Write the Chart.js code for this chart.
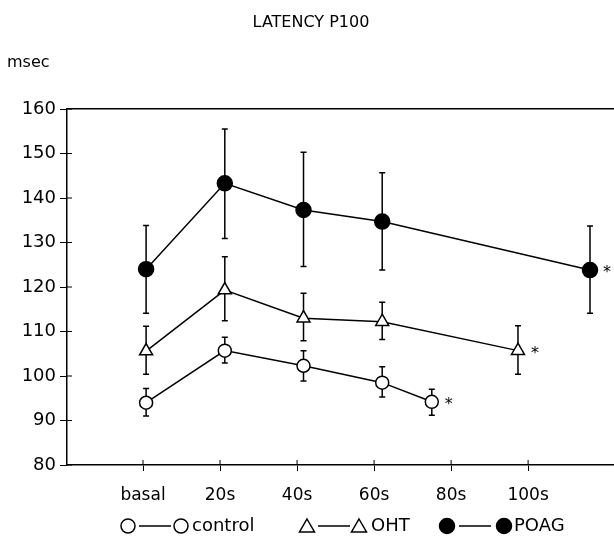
<!DOCTYPE html>
<html>
<head>
<meta charset="utf-8">
<script src="https://cdn.jsdelivr.net/npm/chart.js@4"></script>
<style>
  body { margin: 0; background: #fff; }
  #wrap { position: relative; width: 614px; height: 538px; font-family: "DejaVu Sans", sans-serif; color: #000; }
  canvas, svg { position: absolute; left: 0; top: 0; }
  .txt { position: absolute; white-space: nowrap; line-height: 1; }
</style>
</head>
<body>
<div id="wrap">
  <canvas id="chart" width="614" height="538"></canvas>
  <div class="txt" style="left:0;width:622px;text-align:center;top:14px;font-size:16px;">LATENCY P100</div>
  <div class="txt" style="left:7px;top:54px;font-size:16px;">msec</div>
  <svg width="614" height="538" fill="none" stroke="#000" stroke-width="1.5">
    <circle cx="128" cy="526" r="7" fill="#fff"/>
    <line x1="139" y1="526" x2="171" y2="526"/>
    <circle cx="181" cy="526" r="7" fill="#fff"/>
    <path d="M307 519 L314.5 532 L299.5 532 Z"/>
    <line x1="318" y1="526" x2="350" y2="526"/>
    <path d="M359 519 L366.5 532 L351.5 532 Z"/>
    <circle cx="447" cy="526" r="7.5" fill="#000"/>
    <line x1="459" y1="526" x2="491" y2="526"/>
    <circle cx="504" cy="526" r="7.5" fill="#000"/>
  </svg>
  <div class="txt" style="left:192px;top:516px;font-size:18px;">control</div>
  <div class="txt" style="left:371px;top:516px;font-size:18px;">OHT</div>
  <div class="txt" style="left:514px;top:516px;font-size:18px;">POAG</div>
</div>
<script>
const xLabels = ['basal', '20s', '40s', '60s', '80s', '100s'];
const xTicks = [0, 20, 40, 60, 80, 100];
const yTicks = [80, 90, 100, 110, 120, 130, 140, 150, 160];

const controlX = [0, 20, 40, 60, 72.6];
const controlY = [94.0, 105.7, 102.3, 98.5, 94.2];
const controlLo = [91.0, 102.9, 98.9, 95.3, 91.2];
const controlHi = [97.2, 108.7, 105.7, 102.1, 97.0];

const ohtX = [0, 20, 40, 60, 94.5];
const ohtY = [105.6, 119.3, 113.0, 112.2, 105.7];
const ohtLo = [100.4, 112.4, 107.9, 108.2, 100.4];
const ohtHi = [111.2, 126.8, 118.6, 116.6, 111.3];

const poagX = [0, 20, 40, 60, 112.8];
const poagY = [124.0, 143.3, 137.3, 134.7, 123.8];
const poagLo = [114.1, 130.9, 124.6, 123.8, 114.1];
const poagHi = [133.8, 155.5, 150.3, 145.7, 133.7];

const toPts = (xs, ys) => xs.map((x, i) => ({ x: x, y: ys[i] }));

// error bars behind the markers, star after the last point, ticks crossing the axes
const errorBars = {
  id: 'errorBars',
  beforeDatasetsDraw(chart) {
    const ctx = chart.ctx, xs = chart.scales.x, ys = chart.scales.y;
    ctx.save();
    ctx.strokeStyle = '#000';
    ctx.lineWidth = 1.5;
    chart.data.datasets.forEach(ds => {
      ds.xs.forEach((x, i) => {
        const px = xs.getPixelForValue(x);
        const top = ys.getPixelForValue(ds.hi[i]);
        const bot = ys.getPixelForValue(ds.lo[i]);
        ctx.beginPath();
        ctx.moveTo(px, top); ctx.lineTo(px, bot);
        ctx.moveTo(px - 3, top); ctx.lineTo(px + 3, top);
        ctx.moveTo(px - 3, bot); ctx.lineTo(px + 3, bot);
        ctx.stroke();
      });
    });
    // inner halves of the tick marks
    const area = chart.chartArea, xt = chart.scales.xt;
    ctx.lineWidth = 1;
    ctx.beginPath();
    yTicks.forEach(v => { const py = ys.getPixelForValue(v); ctx.moveTo(area.left, py); ctx.lineTo(area.left + 5, py); });
    xTicks.forEach(v => { const px = xt.getPixelForValue(v); ctx.moveTo(px, area.bottom); ctx.lineTo(px, area.bottom - 5); });
    ctx.stroke();
    ctx.restore();
  },
  afterDatasetsDraw(chart) {
    const ctx = chart.ctx, xs = chart.scales.x, ys = chart.scales.y;
    ctx.save();
    ctx.fillStyle = '#000';
    ctx.font = '16px "DejaVu Sans"';
    ctx.textBaseline = 'middle';
    chart.data.datasets.forEach(ds => {
      const n = ds.xs.length - 1;
      ctx.fillText('*', xs.getPixelForValue(ds.xs[n]) + 13, ys.getPixelForValue(ds.ys[n]) + 3);
    });
    ctx.restore();
  }
};

const base = { borderColor: '#000', borderWidth: 1.5, pointBorderColor: '#000', pointBorderWidth: 1.5, pointHoverRadius: 0 };

new Chart(document.getElementById('chart'), {
  type: 'line',
  data: {
    datasets: [
      Object.assign({}, base, { label: 'control', data: toPts(controlX, controlY), xs: controlX, ys: controlY, lo: controlLo, hi: controlHi,
        pointStyle: 'circle', pointRadius: 6.5, pointBackgroundColor: '#fff' }),
      Object.assign({}, base, { label: 'OHT', data: toPts(ohtX, ohtY), xs: ohtX, ys: ohtY, lo: ohtLo, hi: ohtHi,
        pointStyle: 'triangle', pointRadius: 7.5, pointBackgroundColor: '#fff' }),
      Object.assign({}, base, { label: 'POAG', data: toPts(poagX, poagY), xs: poagX, ys: poagY, lo: poagLo, hi: poagHi,
        pointStyle: 'circle', pointRadius: 7.5, pointBackgroundColor: '#000' })
    ]
  },
  options: {
    responsive: false,
    animation: false,
    layout: { autoPadding: false, padding: { top: 109, right: 0, left: 0, bottom: 0 } },
    plugins: { legend: { display: false }, tooltip: { enabled: false }, title: { display: false } },
    scales: {
      x: {
        type: 'linear', display: false, min: -20.1, max: 118.9
      },
      xt: {
        type: 'linear', position: 'bottom', min: -19.74, max: 122.3,
        afterBuildTicks: s => { s.ticks = xTicks.map(v => ({ value: v })); },
        afterFit: s => { s.height = 73; },
        grid: { drawOnChartArea: false, tickLength: 6, color: '#000', lineWidth: 1 },
        border: { color: '#000', width: 1.5 },
        ticks: { color: '#000', padding: 14, maxRotation: 0, autoSkip: false,
          font: { family: 'DejaVu Sans', size: 17 },
          callback: v => xLabels[xTicks.indexOf(v)] }
      },
      xtop: {
        type: 'linear', position: 'top', min: 0, max: 1,
        afterFit: s => { s.height = 0; },
        grid: { display: false },
        ticks: { display: false },
        border: { color: '#000', width: 1.5 }
      },
      y: {
        min: 80, max: 160,
        afterBuildTicks: s => { s.ticks = yTicks.map(v => ({ value: v })); },
        afterFit: s => { s.width = 67; },
        grid: { drawOnChartArea: false, tickLength: 7, color: '#000', lineWidth: 1 },
        border: { color: '#000', width: 1.5 },
        ticks: { color: '#000', padding: 4, font: { family: 'DejaVu Sans', size: 18 } }
      }
    }
  },
  plugins: [errorBars]
});
</script>
</body>
</html>
